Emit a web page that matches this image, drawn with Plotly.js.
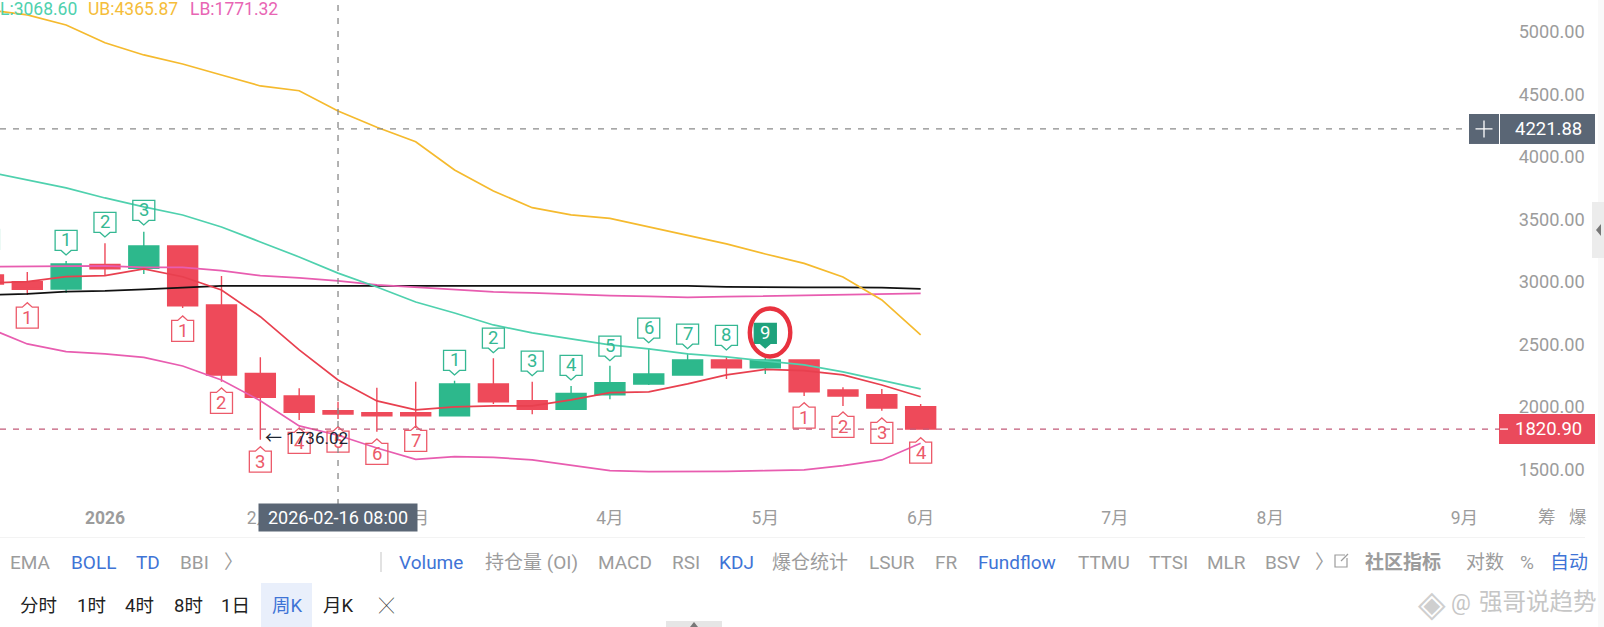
<!DOCTYPE html>
<html>
<head>
<meta charset="utf-8">
<script src="https://cdn.plot.ly/plotly-3.0.1.min.js"></script>
<style>html,body{margin:0;padding:0;background:#fff;overflow:hidden}#chart{width:1604px;height:627px}</style>
</head>
<body>
<div id="chart"></div>
<script>
// ---------- data ----------
const weeks = ["2025-12-15","2025-12-22","2025-12-29","2026-01-05","2026-01-12","2026-01-19","2026-01-26","2026-02-02","2026-02-09","2026-02-16","2026-02-23","2026-03-02","2026-03-09","2026-03-16","2026-03-23","2026-03-30","2026-04-06","2026-04-13","2026-04-20","2026-04-27","2026-05-04","2026-05-11","2026-05-18","2026-05-25","2026-06-01"];
const open  = [3054,3000,2942,3139,3107,3286,2814,2267,2086,1968,1952,1952,1928,2182,2048,1979,2096,2182,2254,2374,2312,2374,2134,2096,2000];
const close = [2982,2939,3142,3104,3286,2808,2254,2075,1955,1942,1928,1928,2182,2040,1979,2107,2192,2262,2374,2312,2374,2120,2086,1990,1821];
const high  = [3060,3078,3166,3307,3400,3286,3046,2395,2147,2040,2152,2200,2208,2387,2200,2166,2328,2467,2427,2406,2414,2374,2155,2142,2022];
const low   = [2975,2894,2910,3046,3062,2790,2200,1736.02,1894,1902,1800,1830,1928,2022,1939,1979,2059,2174,2254,2222,2262,2086,2006,1968,1820.9];
const upperBand = [5174,5134,5054,4912,4814,4742,4654,4566,4528,4365.87,4235,4120,3894,3726,3592,3534,3507,3440,3368,3302,3222,3147,3038,2854,2574];
const midBand   = [3878,3814,3750,3670,3598,3534,3438,3318,3198,3068.6,2958,2838,2750,2654,2590,2542,2494,2462,2422,2398,2366,2334,2278,2208,2142];
const lowerBand = [2630,2502,2440,2422,2395,2326,2214,2048,1846,1771.32,1670,1579,1600,1595,1574,1534,1488,1480,1480,1483,1488,1494,1528,1574,1707];
const redLine   = [2990,3000,3040,3048,3102,3040,2934,2720,2454,2214,2046,1974,1998,2006,2006,2054,2112,2118,2182,2254,2299,2288,2254,2174,2080];
const pinkLine  = [3120,3123,3126,3126,3115,3115,3088,3048,3030,3006,2974,2955,2934,2918,2910,2898,2888,2882,2875,2880,2886,2891,2899,2902,2907];
const blackLine = [2894,2902,2920,2926,2939,2950,2966,2966,2966,2966,2966,2966,2966,2966,2966,2966,2966,2966,2966,2958,2955,2955,2955,2952,2942];
const tdCount   = ["","1","1","2","3","1","2","3","4","5","6","7","1","2","3","4","5","6","7","8","9","1","2","3","4"];
const tdSide    = ["g","r","g","g","g","r","r","r","r","r","r","r","g","g","g","g","g","g","g","g","g","r","r","r","r"];
const tdAnchor  = [3222,2832,3214,3358,3454,2726,2150,1680,1830,1840,1742,1846,2254,2432,2248,2214,2368,2512,2464,2454,2470,2032,1958,1910,1752];
const xTickDates = ["2026-01-05","2026-02-02","2026-03-02","2026-04-06","2026-05-04","2026-06-01","2026-07-06","2026-08-03","2026-09-07"];
const xTickLabels = ["<b>2026</b>","2月","3月","4月","5月","6月","7月","8月","9月"];
const yTicks = [1500,2000,2500,3000,3500,4000,4500,5000];
const crossPrice = 4221.88, lastPrice = 1820.90, periodLow = 1736.02;
const crossDate = "2026-02-16", crossDateLabel = "2026-02-16 08:00";
const highlightedWeek = "2026-05-04", lowWeek = "2026-02-02";

// ---------- style / page furniture ----------
const W = 1510, H = 505;
const FONT = 'Roboto, "Noto Sans CJK SC", sans-serif';
const GREEN = '#2DB88C', RED = '#EE4A5A', GREY = '#9c9c9c', BLUE = '#3f74d6', SLATE = '#5a6675';
const px = v => v / W, py = v => 1 - v / H;

const row2 = [["EMA",30,GREY],["BOLL",93,BLUE],["TD",148,BLUE],["BBI",194,GREY],["〉",233,GREY],["Volume",431,BLUE],["持仓量 (OI)",531,GREY],["MACD",625,GREY],["RSI",686,GREY],["KDJ",736,BLUE],["爆仓统计",810,GREY],["LSUR",892,GREY],["FR",946,GREY],["Fundflow",1017,BLUE],["TTMU",1104,GREY],["TTSI",1168,GREY],["MLR",1226,GREY],["BSV",1282,GREY],["〉",1324,GREY],["<b>社区指标</b>",1403,GREY],["对数",1485,GREY],["%",1527,GREY],["自动",1569,BLUE]];
const row3 = [["分时",38,"#222"],["1时",91,"#222"],["4时",139,"#222"],["8时",188,"#222"],["1日",236,"#222"],["周K",287,BLUE],["月K",338,"#222"],["╳",386,"#333"]];
const legendItems = [["L:3068.60",-2,"#4FD1AE"],["UB:4365.87",86,"#F5BD3A"],["LB:1771.32",188,"#E865B4"]];

const lineTrace = (y, color) => ({type:'scatter', mode:'lines', x:weeks, y:y, line:{color:color, width:1.7}, hoverinfo:'skip', showlegend:false});
const traces = [
  {type:'candlestick', x:weeks, open:open, close:close, high:high, low:low, whiskerwidth:0,
   increasing:{line:{color:GREEN,width:1.4},fillcolor:GREEN}, decreasing:{line:{color:RED,width:1.4},fillcolor:RED}, showlegend:false, hoverinfo:'skip'},
  lineTrace(blackLine,'#111111'),
  lineTrace(pinkLine,'#E85DB0'),
  lineTrace(lowerBand,'#E85DB0'),
  lineTrace(midBand,'#4FD1AE'),
  lineTrace(upperBand,'#F5BA2E'),
  lineTrace(redLine,'#E8404F')
];

const shapes = [];
const annotations = [];
const note = (text, x, y, color, size, extra) => annotations.push(Object.assign({
  text:text, xref:'paper', yref:'paper', x:px(x), y:py(y), showarrow:false, xanchor:'center', yanchor:'middle',
  font:{family:FONT, size:size, color:color}}, extra||{}));
const rect = (x0,y0,x1,y1,fill,layer) => shapes.push({type:'rect', xref:'paper', yref:'paper', x0:px(x0), x1:px(x1), y0:py(y0), y1:py(y1), fillcolor:fill, line:{width:0}, layer:layer||'above'});
const seg = (x0,y0,x1,y1,color,w) => shapes.push({type:'line', xref:'paper', yref:'paper', x0:px(x0), x1:px(x1), y0:py(y0), y1:py(y1), line:{color:color,width:w}});

// TD sequence labels, anchored on their data point, drawn with pixel-sized shapes
const UP_PATH = 'M0,0 L-5,4.5 L-11,4.5 L-11,24.5 L11,24.5 L11,4.5 L5,4.5 Z';
const DN_PATH = 'M0,0 L-5,-4.5 L-11,-4.5 L-11,-25.5 L11,-25.5 L11,-4.5 L5,-4.5 Z';
weeks.forEach((d,i) => {
  const isGreen = tdSide[i] === 'g';
  const c = isGreen ? '#35B893' : '#EC5A6A';
  const filled = d === highlightedWeek;
  shapes.push({type:'path', xref:'x', yref:'y', xsizemode:'pixel', ysizemode:'pixel', xanchor:d, yanchor:tdAnchor[i],
    path:isGreen?UP_PATH:DN_PATH, line:{color:filled?'#1FA27C':c,width:1.3}, fillcolor:filled?'#1FA27C':'rgba(0,0,0,0)'});
  if (tdCount[i]) annotations.push({text:tdCount[i], xref:'x', yref:'y', x:d, y:tdAnchor[i], showarrow:false, yanchor:'middle', xanchor:'center',
    yshift:isGreen?14.5:-15, font:{family:FONT,size:18.5,color:filled?'#ffffff':c}});
});
// red circle round the 9
shapes.push({type:'circle', xref:'x', yref:'y', xsizemode:'pixel', ysizemode:'pixel', xanchor:highlightedWeek, yanchor:tdAnchor[20],
  x0:-15.5, x1:25, y0:-8.5, y1:39.5, line:{color:'#E8323F',width:4.4}});

// crosshair + last price lines
shapes.push({type:'line', xref:'x', yref:'paper', x0:crossDate, x1:crossDate, y0:0, y1:1, line:{color:'#8a8a8a',width:1.3,dash:'6px,7px'}});
shapes.push({type:'line', xref:'paper', yref:'y', x0:0, x1:px(1469), y0:crossPrice, y1:crossPrice, line:{color:'#8a8a8a',width:1.3,dash:'6px,7px'}});
shapes.push({type:'line', xref:'paper', yref:'y', x0:0, x1:px(1499), y0:lastPrice, y1:lastPrice, line:{color:'#C25A78',width:1.3,dash:'6px,7px'}});

// price tags on the axis
const tag = (x0,x1,val,fill) => shapes.push({type:'rect', xref:'paper', yref:'y', ysizemode:'pixel', yanchor:val, x0:px(x0), x1:px(x1), y0:-15, y1:15, fillcolor:fill, line:{width:0}});
tag(1469,1499,crossPrice,SLATE);
tag(1500,1595,crossPrice,SLATE);
tag(1499,1595,lastPrice,'#EA4A5C');
const tagText = (val,label) => annotations.push({text:label, xref:'paper', yref:'y', x:px(1548), y:val, showarrow:false, xanchor:'center', yanchor:'middle', font:{family:FONT,size:18.5,color:'#fff'}});
tagText(crossPrice,crossPrice.toFixed(2));
tagText(lastPrice,lastPrice.toFixed(2));
shapes.push({type:'path', xref:'paper', yref:'y', xsizemode:'pixel', ysizemode:'pixel', xanchor:px(1484), yanchor:crossPrice, path:'M-8.5,0 L8.5,0 M0,-8.5 L0,8.5', line:{color:'#fff',width:1.3}});
shapes.push({type:'line', xref:'paper', yref:'y', ysizemode:'pixel', yanchor:lastPrice, x0:px(1500), x1:px(1508), y0:0, y1:0, line:{color:'#fff',width:1.2}});

// period-low note
annotations.push({text:'← '+periodLow.toFixed(2), xref:'x', yref:'y', x:lowWeek, y:periodLow, showarrow:false, xanchor:'left', yanchor:'middle', xshift:3, yshift:1.5, font:{family:FONT,size:17,color:'#1c2430'}});

// legend row
legendItems.forEach(l => note(l[0], l[1], 9, l[2], 17.5, {xanchor:'left'}));

// crosshair date tooltip
annotations.push({text:crossDateLabel, xref:'x', yref:'paper', x:crossDate, y:py(517.5), showarrow:false, xanchor:'center', yanchor:'middle',
  width:158, height:27, bgcolor:SLATE, borderpad:0, font:{family:FONT,size:18,color:'#fff'}});

// far-right axis glyphs
note('筹',1547,517,GREY,17.5); note('爆',1578,517,GREY,17.5);

// toolbar rows
rect(0,537,1585,537.8,'#efefef');
rect(261,583,312,627,'#E9EFFB','below');
seg(381,552,381,572,'#cfcfcf',1.2);
row2.forEach(r => note(r[0], r[1], 562, r[2], 19));
row3.forEach(r => note(r[0], r[1], 605.5, r[2], r[0]==='╳'?15:18.5));
// external link icon next to the community entry
shapes.push({type:'path', xref:'paper', yref:'paper', path:`M${px(1345)},${py(555)} L${px(1335)},${py(555)} L${px(1335)},${py(567)} L${px(1347)},${py(567)} L${px(1347)},${py(558)}`, line:{color:GREY,width:1.2}});
seg(1341,561,1348,554,GREY,1.2);

// side handle and bottom handle
rect(1598,0,1604,627,'#f9f9f9');
rect(1592,202,1604,258,'#ececec');
shapes.push({type:'path', xref:'paper', yref:'paper', path:`M${px(1596)},${py(230)} L${px(1601)},${py(224)} L${px(1601)},${py(236)} Z`, fillcolor:'#777', line:{width:0}});
rect(666,621,722,627,'#e6e6e6');
shapes.push({type:'path', xref:'paper', yref:'paper', path:`M${px(694)},${py(622)} L${px(690)},${py(627)} L${px(698)},${py(627)} Z`, fillcolor:'#777', line:{width:0}});

// watermark
note('◈',1432,603,'#cfcfcf',26,{font:{family:'"DejaVu Sans"',size:36,color:'#cfcfcf'}});
note('@',1461,602,'#c6c6c6',22);
note('强哥说趋势',1538,602,'#c6c6c6',23.5);

const layout = {
  width:1604, height:627, autosize:false, showlegend:false,
  paper_bgcolor:'#ffffff', plot_bgcolor:'#ffffff',
  margin:{l:0,r:94,t:0,b:122,pad:0},
  boxgap:0.228, boxgroupgap:0,
  xaxis:{type:'date', range:['2025-12-17 02:00','2026-09-15 05:00'], rangeslider:{visible:false},
    tickmode:'array', tickvals:xTickDates, ticktext:xTickLabels, showgrid:false, zeroline:false, showline:false,
    ticks:'', tickangle:0, tickfont:{family:FONT,size:17.5,color:GREY}, fixedrange:true},
  yaxis:{side:'right', range:[1213.6,5253.6], tickmode:'array', tickvals:yTicks, tickformat:'.2f',
    showgrid:false, zeroline:false, showline:false, ticks:'outside', ticklen:4, tickcolor:'rgba(0,0,0,0)',
    tickfont:{family:FONT,size:18.2,color:GREY}, fixedrange:true},
  shapes:shapes, annotations:annotations
};
Plotly.newPlot('chart', traces, layout, {displayModeBar:false, staticPlot:true});
</script>
</body>
</html>
